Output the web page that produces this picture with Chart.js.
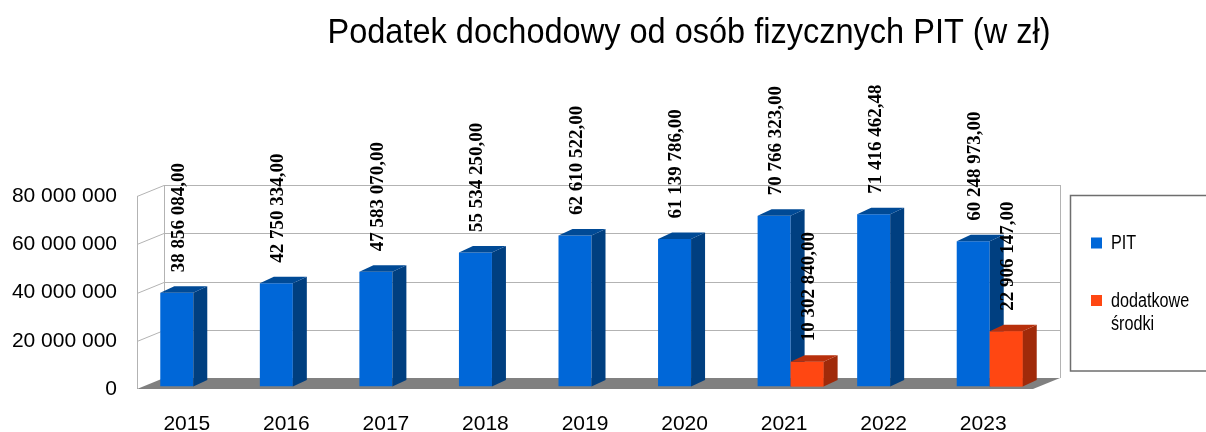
<!DOCTYPE html>
<html>
<head>
<meta charset="utf-8">
<script src="https://cdn.jsdelivr.net/npm/chart.js"></script>
<style>
  html, body { margin: 0; padding: 0; background: #fff; }
  canvas { display: block; }
</style>
</head>
<body>
<canvas id="chart" width="1206" height="432"></canvas>
<script>
// data
const years = ['2015', '2016', '2017', '2018', '2019', '2020', '2021', '2022', '2023'];
const pitValues = [38856084, 42750334, 47583070, 55534250, 62610522, 61139786, 70766323, 71416462.48, 60248973];
const extraValues = [null, null, null, null, null, null, 10302840, null, 22906147];
const yTicks = [0, 20000000, 40000000, 60000000, 80000000];
const seriesNames = ['PIT', 'dodatkowe środki'];
const chartTitle = 'Podatek dochodowy od osób fizycznych PIT (w zł)';

// faces: front, side, top
const pitColors = ['#0067d8', '#003f80', '#004a96'];
const extraColors = ['#ff4712', '#a02a0a', '#b8300c'];

// fake 3d: wall depth, bar placement inside it, bar depth
const wall = { dx: 27, dy: -11 };
const shift = { dx: 6.5, dy: -2.5 };
const depth = { dx: 14, dy: -6.5 };

function groupDigits(s) {
  return s.replace(/\B(?=(\d{3})+(?!\d))/g, ' ');
}
function fmtMoney(v) {
  const parts = v.toFixed(2).split('.');
  return groupDigits(parts[0]) + ',' + parts[1];
}

function drawBoxes(ctx, meta, vals, colors) {
  meta.data.forEach((el, i) => {
    if (vals[i] == null) return;
    const p = el.getProps(['x', 'y', 'base', 'width'], true);
    const l = p.x - p.width / 2, r = p.x + p.width / 2;
    const t = Math.min(p.y, p.base), b = Math.max(p.y, p.base);
    ctx.fillStyle = colors[1];
    ctx.beginPath();
    ctx.moveTo(r, t);
    ctx.lineTo(r + depth.dx, t + depth.dy);
    ctx.lineTo(r + depth.dx, b + depth.dy);
    ctx.lineTo(r, b);
    ctx.closePath();
    ctx.fill();
    ctx.fillStyle = colors[2];
    ctx.beginPath();
    ctx.moveTo(l, t);
    ctx.lineTo(l + depth.dx, t + depth.dy);
    ctx.lineTo(r + depth.dx, t + depth.dy);
    ctx.lineTo(r, t);
    ctx.closePath();
    ctx.fill();
  });
}

const threeD = {
  id: 'threeD',
  beforeDatasetsDraw(chart) {
    const { ctx, chartArea: a, scales: { y } } = chart;
    ctx.save();
    ctx.strokeStyle = '#b3b3b3';
    ctx.lineWidth = 1;
    ctx.beginPath();
    yTicks.forEach(v => {
      if (v === 0) return;
      const py = Math.round(y.getPixelForValue(v)) + 0.5;
      ctx.moveTo(a.left, py);
      ctx.lineTo(a.left + wall.dx, py + wall.dy);
      ctx.lineTo(a.right + wall.dx, py + wall.dy);
    });
    const lx = Math.round(a.left) + 0.5;
    ctx.moveTo(lx, a.top);
    ctx.lineTo(lx, a.bottom);
    ctx.moveTo(lx + wall.dx, a.top + wall.dy);
    ctx.lineTo(lx + wall.dx, a.bottom + wall.dy);
    ctx.moveTo(Math.round(a.right) + 0.5 + wall.dx, a.top + wall.dy);
    ctx.lineTo(Math.round(a.right) + 0.5 + wall.dx, a.bottom + wall.dy);
    ctx.stroke();

    // floor
    ctx.fillStyle = '#808080';
    ctx.beginPath();
    ctx.moveTo(a.left, a.bottom);
    ctx.lineTo(a.right, a.bottom);
    ctx.lineTo(a.right + wall.dx, a.bottom + wall.dy);
    ctx.lineTo(a.left + wall.dx, a.bottom + wall.dy);
    ctx.closePath();
    ctx.fill();
    ctx.restore();

    // bars stand in the middle of the floor depth
    ctx.save();
    ctx.translate(shift.dx, shift.dy);
  },
  afterDatasetsDraw(chart) {
    const { ctx } = chart;
    const pitMeta = chart.getDatasetMeta(0);
    const extraMeta = chart.getDatasetMeta(1);
    drawBoxes(ctx, pitMeta, pitValues, pitColors);
    // orange boxes sit in front of the blue side faces
    extraMeta.controller.draw();
    drawBoxes(ctx, extraMeta, extraValues, extraColors);
    ctx.restore();

    // value labels, rotated
    ctx.save();
    ctx.fillStyle = '#000';
    ctx.font = 'bold 19px "Liberation Serif"';
    ctx.textAlign = 'left';
    ctx.textBaseline = 'middle';
    [[pitMeta, pitValues], [extraMeta, extraValues]].forEach(([meta, vals]) => {
      meta.data.forEach((el, i) => {
        if (vals[i] == null) return;
        const p = el.getProps(['x', 'y'], true);
        ctx.save();
        ctx.translate(p.x + shift.dx + 2, p.y + shift.dy - 20.5);
        ctx.rotate(-Math.PI / 2);
        ctx.fillText(fmtMoney(vals[i]), 0, 0);
        ctx.restore();
      });
    });
    ctx.restore();
  }
};

// title and legend drawn by hand (narrow Arial-like look)
function squeezedText(ctx, text, x, y, sx, align) {
  ctx.save();
  ctx.translate(x, y);
  ctx.scale(sx, 1);
  ctx.textAlign = align;
  ctx.fillText(text, 0, 0);
  ctx.restore();
}

const decor = {
  id: 'decor',
  afterDraw(chart) {
    const { ctx } = chart;
    ctx.save();
    ctx.fillStyle = '#000';
    ctx.textBaseline = 'alphabetic';
    ctx.font = '35px "Liberation Sans"';
    const tw = ctx.measureText(chartTitle).width;
    squeezedText(ctx, chartTitle, 689, 43, 723 / tw, 'center');

    // legend box
    ctx.strokeStyle = '#6e6e6e';
    ctx.lineWidth = 1.5;
    ctx.strokeRect(1070.5, 195.5, 160, 175.5);
    ctx.font = '19.5px "Liberation Sans"';
    const colors = [pitColors[0], extraColors[0]];
    const rowTop = [237.5, 295];
    seriesNames.forEach((name, i) => {
      ctx.fillStyle = colors[i];
      ctx.fillRect(1091, rowTop[i], 11, 11);
      ctx.fillStyle = '#000';
      name.split(' ').forEach((w, j) => {
        squeezedText(ctx, w, 1111, rowTop[i] + 11.5 + j * 23, 0.83, 'left');
      });
    });
    ctx.restore();
  }
};

new Chart(document.getElementById('chart'), {
  type: 'bar',
  data: {
    labels: years,
    datasets: [
      { label: seriesNames[0], data: pitValues, backgroundColor: pitColors[0] },
      { label: seriesNames[1], data: extraValues, backgroundColor: extraColors[0] }
    ]
  },
  options: {
    responsive: false,
    animation: false,
    devicePixelRatio: 1,
    events: [],
    layout: { padding: { left: 0, top: 196, right: 173, bottom: 0 } },
    datasets: { bar: { barPercentage: 1, categoryPercentage: 0.663 } },
    plugins: {
      legend: { display: false },
      title: { display: false },
      tooltip: { enabled: false }
    },
    scales: {
      x: {
        grid: { display: false, drawTicks: false },
        border: { display: false },
        ticks: {
          color: '#000',
          font: { family: 'Liberation Sans', size: 21 },
          padding: 23,
          maxRotation: 0
        },
        afterFit(scale) { scale.height = 43; }
      },
      y: {
        min: 0,
        max: 80000000,
        grid: { display: false, drawTicks: false },
        border: { display: false },
        afterBuildTicks(scale) { scale.ticks = yTicks.map(v => ({ value: v })); },
        ticks: {
          color: '#000',
          font: { family: 'Liberation Sans', size: 21 },
          padding: 20,
          callback: v => groupDigits(String(v))
        },
        afterFit(scale) { scale.width = 137; }
      }
    }
  },
  plugins: [threeD, decor]
});
</script>
</body>
</html>
